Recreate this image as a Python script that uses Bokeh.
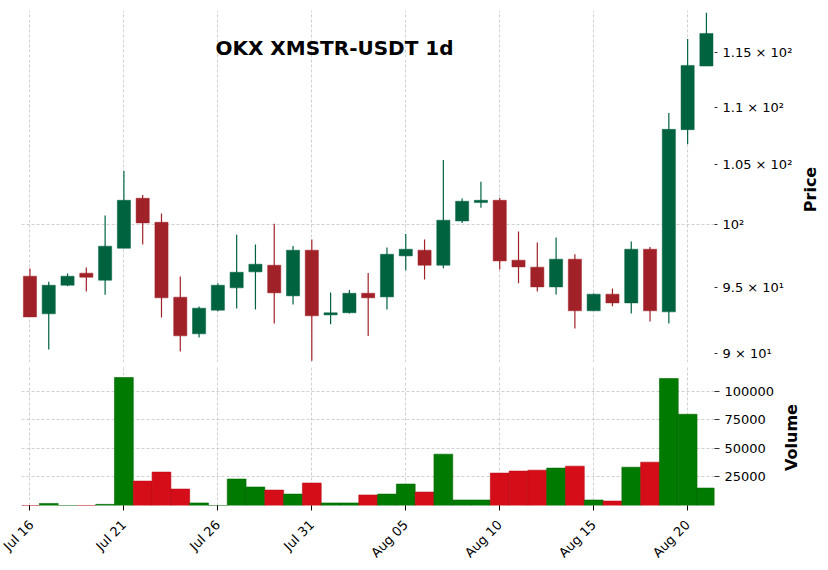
import math
import pandas as pd
from bokeh.plotting import figure
from bokeh.layouts import column, row
from bokeh.models import (ColumnDataSource, Range1d, FixedTicker, DatetimeTickFormatter,
                          Label, BasicTickFormatter, Grid)
from bokeh.embed import file_html
from bokeh.resources import INLINE

title_text = "OKX XMSTR-USDT 1d"
price_axis_label = "Price"
volume_axis_label = "Volume"

dates = pd.date_range("2025-07-16", "2025-08-21", freq="D")

opens = [95.86, 92.97, 95.16, 96.10, 95.55, 98.07, 102.14, 100.16, 94.24, 91.47,
         93.25, 94.96, 96.20, 96.72, 94.34, 97.91, 92.89, 93.05, 94.54, 94.26,
         97.46, 97.91, 96.72, 100.27, 101.78, 101.97, 97.12, 96.57, 95.03, 97.20,
         93.20, 94.47, 93.80, 97.99, 93.12, 108.00, 113.74]
highs = [96.46, 95.42, 96.07, 96.54, 100.71, 104.43, 102.41, 100.87, 95.83, 93.53,
         95.32, 99.16, 98.36, 100.05, 98.25, 98.76, 94.60, 94.80, 96.12, 98.12,
         99.22, 98.76, 105.37, 102.11, 103.53, 102.16, 99.41, 98.52, 98.92, 97.59,
         94.52, 94.90, 98.60, 98.17, 109.47, 116.26, 118.78]
lows = [92.74, 90.31, 95.08, 94.67, 94.42, 98.07, 98.36, 92.69, 90.17, 91.20,
        93.17, 93.37, 93.30, 92.24, 93.68, 89.48, 92.19, 93.00, 91.30, 93.30,
        96.33, 95.60, 96.49, 100.11, 101.36, 96.38, 95.32, 94.67, 94.44, 91.87,
        93.20, 93.55, 93.00, 92.39, 92.24, 106.72, 113.74]
closes = [92.74, 95.16, 95.86, 95.78, 98.23, 101.97, 100.11, 94.19, 91.32, 93.40,
          95.16, 96.17, 96.80, 94.57, 97.91, 92.82, 93.05, 94.54, 94.19, 97.59,
          97.99, 96.72, 100.33, 101.89, 101.97, 97.06, 96.59, 95.03, 97.20, 93.20,
          94.47, 93.80, 97.99, 93.20, 108.03, 113.80, 116.80]
volumes = [0, 1800, 0, 0, 1000, 112300, 21400, 29300, 14400, 2200,
           0, 23200, 16200, 13500, 10000, 19700, 2200, 2200, 9200, 10000,
           18800, 11800, 45000, 4800, 4800, 28400, 30200, 31000, 32800, 34500,
           4800, 3900, 33600, 38000, 111400, 80000, 15300]

price_ticks = [90, 95, 100, 105, 110, 115]
price_labels = ["9 \u00d7 10\u00b9", "9.5 \u00d7 10\u00b9", "10\u00b2",
                "1.05 \u00d7 10\u00b2", "1.1 \u00d7 10\u00b2", "1.15 \u00d7 10\u00b2"]
volume_ticks = [25000, 50000, 75000, 100000]
date_ticks = ["2025-07-16", "2025-07-21", "2025-07-26", "2025-07-31",
              "2025-08-05", "2025-08-10", "2025-08-15", "2025-08-20"]

UP, DOWN = "#006340", "#A02128"
VUP, VDOWN = "#007a00", "#d50d18"
VUP_E, VDOWN_E = "#006800", "#b80b15"
DAY = 86400000.0
FONT = "DejaVu Sans"
GRID = "#c4c4c4"
FW = 693

xs = [d.value / 1e6 for d in dates]
up = [c >= o for o, c in zip(opens, closes)]
src = ColumnDataSource(dict(
    x=xs, o=opens, h=highs, l=lows, c=closes, v=volumes,
    top=[max(o, c) for o, c in zip(opens, closes)],
    bot=[min(o, c) for o, c in zip(opens, closes)],
    col=[UP if u else DOWN for u in up],
    vcol=[VUP if u else VDOWN for u in up],
    vedge=[VUP_E if u else VDOWN_E for u in up],
))

xt = [pd.Timestamp(d).value / 1e6 for d in date_ticks]
xr = Range1d(xs[0] - 0.45 * DAY, xs[-1] + 0.43 * DAY)


def style_right_axis(ax, tick_out):
    ax.axis_line_color = None
    ax.major_tick_in = 0
    ax.major_tick_out = tick_out
    ax.minor_tick_line_color = None
    ax.major_tick_line_color = "#333333"
    ax.major_label_text_font = FONT
    ax.major_label_text_font_size = "13px"
    ax.major_label_text_color = "black"
    ax.major_label_standoff = 5


def label_strip(text, w, h, sx, sy):
    f = figure(frame_width=w, frame_height=h, min_border=0, min_border_left=0,
               min_border_right=0, min_border_top=0, min_border_bottom=0,
               x_axis_location=None, y_axis_location=None,
               output_backend="svg", toolbar_location=None)
    f.center = []
    f.outline_line_color = None
    f.add_layout(Label(x=sx, y=sy, x_units="screen", y_units="screen", text=text,
                       angle=math.pi / 2, text_align="center", text_baseline="middle",
                       text_font=FONT, text_font_size="16px", text_font_style="bold",
                       text_color="black"))
    return f


# ---------- price panel ----------
p = figure(x_axis_type="datetime", y_axis_type="log", x_range=xr,
           y_range=Range1d(89.36, 119.0), x_axis_location=None, y_axis_location="right",
           frame_width=FW, frame_height=352, min_border_left=21, min_border_top=10,
           min_border_bottom=0, min_border_right=80,
           output_backend="svg", toolbar_location=None)
p.center = []
p.add_layout(Grid(dimension=0, ticker=FixedTicker(ticks=xt), grid_line_color=GRID,
                  grid_line_dash="3 2", grid_line_width=0.8))
p.add_layout(Grid(dimension=1, ticker=FixedTicker(ticks=[100]), grid_line_color=GRID,
                  grid_line_dash="3 2", grid_line_width=0.8))
p.outline_line_color = None
p.segment(x0="x", y0="l", x1="x", y1="h", color="col", line_width=1.2, source=src)
p.vbar(x="x", width=0.7 * DAY, top="top", bottom="bot", fill_color="col",
       line_color="col", line_width=0.5, source=src)

ya = p.yaxis[0]
ya.ticker = FixedTicker(ticks=price_ticks)
ya.major_label_overrides = {t: s for t, s in zip(price_ticks, price_labels)}
style_right_axis(ya, 3)

p.add_layout(Label(x=313, y=315, x_units="screen", y_units="screen", text=title_text,
                   text_align="center", text_baseline="alphabetic", text_font=FONT,
                   text_font_size="20px", text_font_style="bold", text_color="black"))

pl = label_strip(price_axis_label, 26, 362, 15, 183)

# ---------- volume panel ----------
v = figure(x_axis_type="datetime", x_range=xr, y_range=Range1d(0, 122800),
           y_axis_location="right", frame_width=FW, frame_height=140,
           min_border_left=21, min_border_top=3, min_border_bottom=10, min_border_right=62,
           output_backend="svg", toolbar_location=None)
v.center = []
v.add_layout(Grid(dimension=0, ticker=FixedTicker(ticks=xt), grid_line_color=GRID,
                  grid_line_dash="3 2", grid_line_width=0.8))
v.add_layout(Grid(dimension=1, ticker=FixedTicker(ticks=volume_ticks), grid_line_color=GRID,
                  grid_line_dash="3 2", grid_line_width=0.8))
v.outline_line_color = None
v.vbar(x="x", width=DAY, top="v", bottom=0, fill_color="vcol", line_color="vedge",
       line_width=0.6, source=src)

vy = v.yaxis[0]
vy.ticker = FixedTicker(ticks=volume_ticks)
vy.formatter = BasicTickFormatter(use_scientific=False)
style_right_axis(vy, 5)

vx = v.xaxis[0]
vx.ticker = FixedTicker(ticks=xt)
fmt = "%b %d"
vx.formatter = DatetimeTickFormatter(days=fmt, months=fmt, hours=fmt, years=fmt)
vx.major_label_orientation = math.pi / 4
vx.axis_line_color = None
vx.major_tick_in = 0
vx.major_tick_out = 5
vx.minor_tick_line_color = None
vx.major_tick_line_color = "black"
vx.major_label_text_font = FONT
vx.major_label_text_font_size = "13px"
vx.major_label_text_color = "black"
vx.major_label_standoff = 12

vl = label_strip(volume_axis_label, 30, 143, 14, 71)

layout = column(row(p, pl, spacing=0), row(v, vl, spacing=0), spacing=0)
open("out.html", "w").write(file_html(layout, INLINE))
